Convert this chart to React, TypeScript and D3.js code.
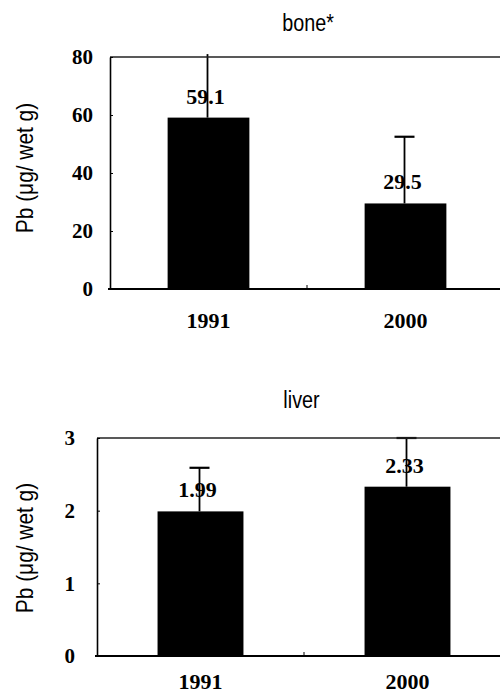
import { useEffect, useRef } from 'react';
import * as d3 from 'd3';

const categories = ['1991', '2000'];

const boneValues = [59.1, 29.5];
const boneErrorTops = [81, 52.5];
const boneLabels = ['59.1', '29.5'];
const boneTicks = [0, 20, 40, 60, 80];

const liverValues = [1.99, 2.33];
const liverErrorTops = [2.59, 3.0];
const liverLabels = ['1.99', '2.33'];
const liverTicks = [0, 1, 2, 3];

const SERIF = "'Liberation Serif', 'Times New Roman', serif";
const SANS = "'Liberation Sans', Arial, sans-serif";

function drawPanel(svg, opts) {
  const { title, values, errTops, labels, ticks, yMax, left, top, bottom, band, tickPad, titleY, labelX, labelY, catY } = opts;
  const g = svg.append('g');

  const x = d3.scaleBand().domain(categories).range([left, left + band * 2]).padding(0);
  const y = d3.scaleLinear().domain([0, yMax]).range([bottom, top]);
  const barW = x.bandwidth() * 0.415;
  const cx = (d) => x(d) + x.bandwidth() / 2;

  // title
  g.append('text')
    .attr('transform', `translate(${(left + 500) / 2 + 3},${titleY}) scale(0.86,1)`)
    .attr('text-anchor', 'middle')
    .attr('font-family', SANS)
    .attr('font-size', 23)
    .attr('fill', '#000')
    .text(title);

  // y label
  g.append('text')
    .attr('transform', `translate(${labelX},${labelY}) rotate(-90) scale(0.87,1)`)
    .attr('text-anchor', 'middle')
    .attr('font-family', SANS)
    .attr('font-size', 24)
    .attr('fill', '#000')
    .text('Pb (\u03BCg/ wet g)');

  // bars
  g.selectAll('rect.bar')
    .data(values)
    .enter()
    .append('rect')
    .attr('x', (d, i) => cx(categories[i]) - barW / 2)
    .attr('y', (d) => y(d))
    .attr('width', barW)
    .attr('height', (d) => y(0) - y(d))
    .attr('fill', '#000');

  // error bars (upper arm only)
  errTops.forEach((e, i) => {
    const xc = cx(categories[i]) - 1;
    g.append('line')
      .attr('x1', xc).attr('x2', xc)
      .attr('y1', y(values[i])).attr('y2', y(e))
      .attr('stroke', '#000').attr('stroke-width', 1.8);
    if (e <= yMax) {
      g.append('line')
        .attr('x1', xc - 10).attr('x2', xc + 10)
        .attr('y1', y(e)).attr('y2', y(e))
        .attr('stroke', '#000').attr('stroke-width', 2.2);
    }
  });

  // value labels
  g.selectAll('text.val')
    .data(labels)
    .enter()
    .append('text')
    .attr('x', (d, i) => cx(categories[i]) - 3)
    .attr('y', (d, i) => y(values[i]) - 14)
    .attr('text-anchor', 'middle')
    .attr('font-family', SERIF)
    .attr('font-weight', 'bold')
    .attr('font-size', 22)
    .attr('fill', '#000')
    .text((d) => d);

  // frame: top border, bottom axis
  g.append('line')
    .attr('x1', left).attr('x2', 500)
    .attr('y1', top).attr('y2', top)
    .attr('stroke', '#222').attr('stroke-width', 1.3);
  g.append('line')
    .attr('x1', left - 2).attr('x2', 500)
    .attr('y1', bottom).attr('y2', bottom)
    .attr('stroke', '#000').attr('stroke-width', 1.8);

  // middle x tick
  g.append('line')
    .attr('x1', left + band).attr('x2', left + band)
    .attr('y1', bottom).attr('y2', bottom - 4)
    .attr('stroke', '#000').attr('stroke-width', 1);

  // y axis
  const yAxis = d3.axisLeft(y)
    .tickValues(ticks)
    .tickFormat(d3.format('d'))
    .tickSize(-3)
    .tickSizeOuter(0)
    .tickPadding(tickPad);
  const ax = g.append('g').attr('transform', `translate(${left},0)`).call(yAxis);
  ax.select('.domain').attr('stroke', '#000').attr('stroke-width', 1.6);
  ax.selectAll('.tick line').attr('stroke', '#000').attr('stroke-width', 1);
  ax.selectAll('.tick text')
    .attr('font-family', SERIF)
    .attr('font-weight', 'bold')
    .attr('font-size', 21)
    .attr('fill', '#000');

  // category labels
  g.selectAll('text.cat')
    .data(categories)
    .enter()
    .append('text')
    .attr('x', (d) => cx(d))
    .attr('y', catY)
    .attr('text-anchor', 'middle')
    .attr('font-family', SERIF)
    .attr('font-weight', 'bold')
    .attr('font-size', 22)
    .attr('fill', '#000')
    .text((d) => d);
}

export default function App() {
  const svgRef = useRef(null);

  useEffect(() => {
    const svg = d3.select(svgRef.current);
    svg.selectAll('*').remove();

    svg.append('rect').attr('width', 500).attr('height', 693).attr('fill', '#fff');

    drawPanel(svg, {
      title: 'bone*',
      values: boneValues,
      errTops: boneErrorTops,
      labels: boneLabels,
      ticks: boneTicks,
      yMax: 80,
      left: 110,
      top: 57,
      bottom: 289,
      band: 197,
      tickPad: 17,
      titleY: 31,
      labelX: 33,
      labelY: 168,
      catY: 328,
    });

    drawPanel(svg, {
      title: 'liver',
      values: liverValues,
      errTops: liverErrorTops,
      labels: liverLabels,
      ticks: liverTicks,
      yMax: 3,
      left: 97,
      top: 438,
      bottom: 656,
      band: 207,
      tickPad: 22,
      titleY: 408,
      labelX: 33,
      labelY: 548,
      catY: 689,
    });
  }, []);

  return (
    <svg
      ref={svgRef}
      width={500}
      height={693}
      style={{ position: 'absolute', left: 0, top: 0, display: 'block' }}
    />
  );
}
